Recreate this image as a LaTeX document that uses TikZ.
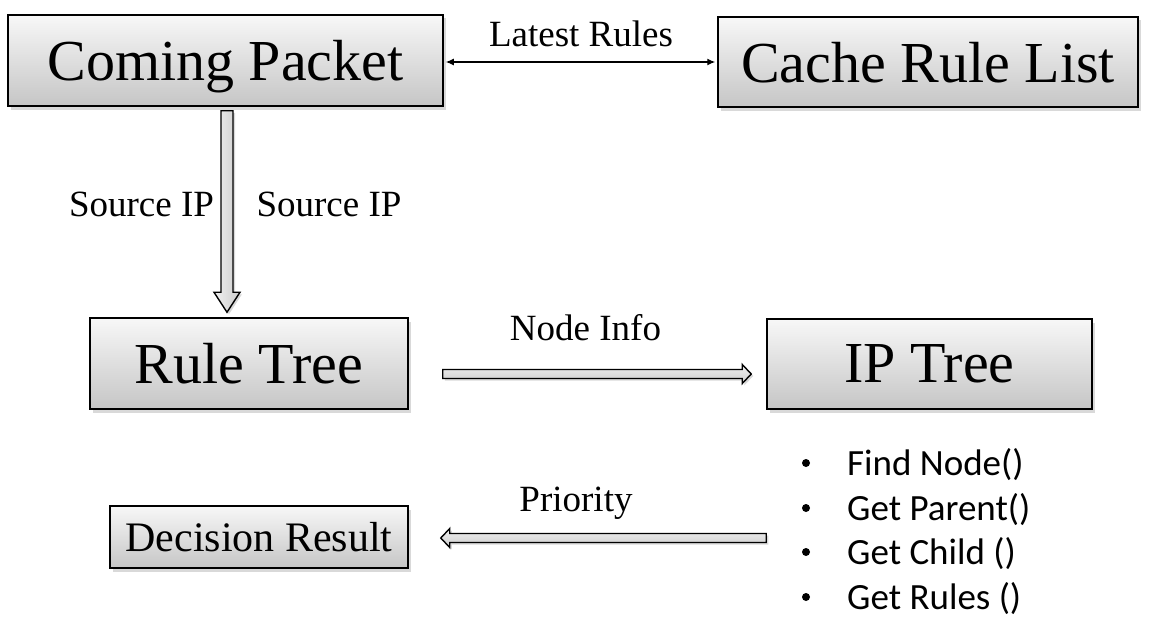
\documentclass[tikz,border=0pt]{standalone}
\usepackage{fontspec}
\setmainfont{Liberation Serif}
\newfontfamily\carlitofont{Carlito}
\usetikzlibrary{calc,shadows,arrows.meta}
\tikzset{
  box/.style={draw=black, line width=1.5pt, top color=gray!6, bottom color=gray!45,
    inner sep=0pt, text depth=0pt, align=center,
    drop shadow={opacity=0.3, shadow xshift=3pt, shadow yshift=-3.5pt}},
  bigfont/.style={font=\fontsize{58}{60}\selectfont},
  lbl/.style={anchor=base, inner sep=0pt, font=\fontsize{37}{40}\selectfont},
  barrow/.style={draw=black, line width=1.4pt, line join=miter, top color=gray!12, bottom color=gray!40,
    drop shadow={opacity=0.3, shadow xshift=2pt, shadow yshift=-2pt}},
  vbarrow/.style={draw=black, line width=1.4pt, line join=miter, left color=gray!12, right color=gray!40,
    drop shadow={opacity=0.3, shadow xshift=2pt, shadow yshift=-2pt}},
  bul/.style={anchor=base, inner sep=0pt, font=\carlitofont\fontsize{37}{40}\selectfont},
  bdot/.style={circle, fill=black, inner sep=0pt, minimum size=8pt},
}
\begin{document}
\begin{tikzpicture}[x=1pt,y=-1pt]
\useasboundingbox (0,0) rectangle (1157,642);
% boxes
\node[box, bigfont, minimum width=435, minimum height=91] (cp) at (225.5,60.5) {Coming Packet};
\node[box, bigfont, minimum width=420, minimum height=90] (crl) at (928,62) {Cache Rule List};
\node[box, bigfont, minimum width=318, minimum height=91] (rt) at (249,363.5) {Rule Tree};
\node[box, bigfont, minimum width=325, minimum height=90] (ipt) at (929.5,364) {IP Tree};
\node[box, font=\fontsize{42}{44}\selectfont, minimum width=298, minimum height=62] (dr) at (259,537) {Decision Result};
% latest rules double arrow
\draw[line width=1.2pt, {Latex[length=8pt,width=7pt]}-{Latex[length=8pt,width=7pt]}, shorten <=2pt, shorten >=2pt] (cp.east |- 0,62) -- (crl.west |- 0,62);
\node[lbl] (lr) at (581,47) {Latest Rules};
% vertical block arrow
\coordinate (v1) at ($(cp.south)+(1.5,4)$);
\coordinate (v2) at ($(rt.north -| v1)+(0,-5)$);
\draw[vbarrow] ($(v1)+(-6,0)$) -- ($(v2)+(-6,-20)$) -- ($(v2)+(-13,-20)$) -- (v2) -- ($(v2)+(13,-20)$) -- ($(v2)+(6,-20)$) -- ($(v1)+(6,0)$) -- cycle;
\node[lbl] (s1) at (141.5,216) {Source IP};
\node[lbl] (s2) at (329,216) {Source IP};
% node info arrow
\coordinate (h1) at ($(rt.east)+(34,10.5)$);
\coordinate (h2) at ($(ipt.west |- h1)+(-15,0)$);
\draw[barrow] ($(h1)+(0,-4.5)$) -- ($(h2)+(-9,-4.5)$) -- ($(h2)+(-9,-9.5)$) -- (h2) -- ($(h2)+(-9,9.5)$) -- ($(h2)+(-9,4.5)$) -- ($(h1)+(0,4.5)$) -- cycle;
\node[lbl] (ni) at (585.5,340) {Node Info};
% priority arrow
\coordinate (p1) at ($(dr.east)+(32,1)$);
\coordinate (p2) at (ipt.west |- p1);
\draw[barrow] ($(p2)+(0,-4.5)$) -- ($(p1)+(9,-4.5)$) -- ($(p1)+(9,-9.5)$) -- (p1) -- ($(p1)+(9,9.5)$) -- ($(p1)+(9,4.5)$) -- ($(p2)+(0,4.5)$) -- cycle;
\node[lbl] (pr) at (576,511) {Priority};
% bullet list
\node[bdot] (b1) at (806,463) {};
\node[bul, anchor=base west] (t1) at (847,475) {Find Node()};
\node[bdot] (b2) at (806,508) {};
\node[bul, anchor=base west] (t2) at (847,520) {Get Parent()};
\node[bdot] (b3) at (806,552) {};
\node[bul, anchor=base west] (t3) at (847,564) {Get Child ()};
\node[bdot] (b4) at (806,597) {};
\node[bul, anchor=base west] (t4) at (847,609) {Get Rules ()};
\end{tikzpicture}
\end{document}
